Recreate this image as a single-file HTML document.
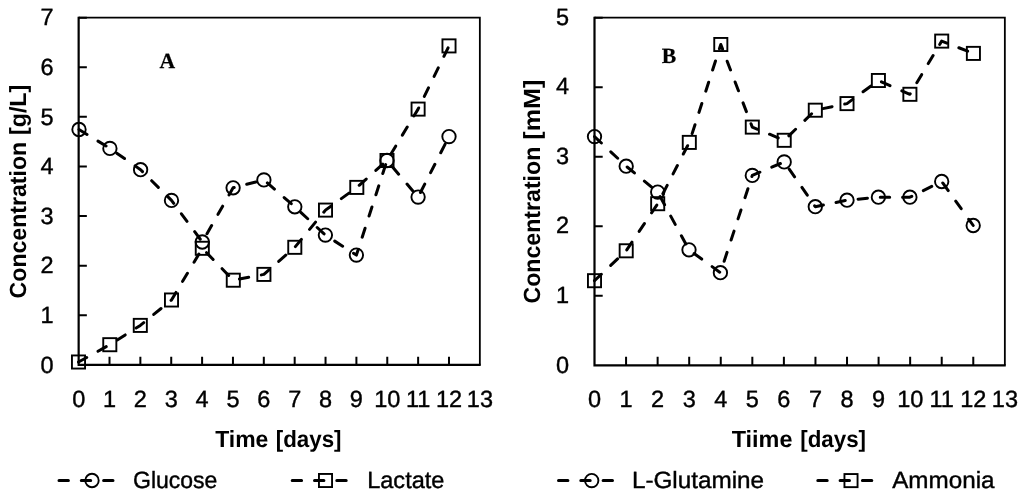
<!DOCTYPE html>
<html lang="en"><head><meta charset="utf-8"><title>Concentration profiles</title>
<style>html,body{margin:0;padding:0;background:#fff}body{width:1024px;height:502px;overflow:hidden}svg{display:block;will-change:transform}text{text-rendering:geometricPrecision}</style>
</head><body>
<svg width="1024" height="502" viewBox="0 0 1024 502">
<rect width="1024" height="502" fill="#fff"/>
<path d="M78.65 17.65H479.85V364.85" fill="none" stroke="#000" stroke-width="1.8"/>
<path d="M78.65 16.65V364.85H480.75" fill="none" stroke="#000" stroke-width="2.2" stroke-linejoin="miter"/>
<path d="M109.51 364.85V356.75M140.37 364.85V356.75M171.23 364.85V356.75M202.10 364.85V356.75M232.96 364.85V356.75M263.82 364.85V356.75M294.68 364.85V356.75M325.54 364.85V356.75M356.40 364.85V356.75M387.27 364.85V356.75M418.13 364.85V356.75M448.99 364.85V356.75M78.65 315.25H86.85M78.65 265.65H86.85M78.65 216.05H86.85M78.65 166.45H86.85M78.65 116.85H86.85M78.65 67.25H86.85M78.65 17.65H86.85" fill="none" stroke="#000" stroke-width="2"/>
<g font-family='"Liberation Sans", sans-serif' font-size="23.5" fill="#000" stroke="#000" stroke-width="0.4" text-anchor="middle">
<text x="78.7" y="407.2">0</text>
<text x="109.5" y="407.2">1</text>
<text x="140.4" y="407.2">2</text>
<text x="171.2" y="407.2">3</text>
<text x="202.1" y="407.2">4</text>
<text x="233.0" y="407.2">5</text>
<text x="263.8" y="407.2">6</text>
<text x="294.7" y="407.2">7</text>
<text x="325.5" y="407.2">8</text>
<text x="356.4" y="407.2">9</text>
<text x="387.3" y="407.2">10</text>
<text x="418.1" y="407.2">11</text>
<text x="449.0" y="407.2">12</text>
<text x="479.9" y="407.2">13</text>
</g>
<g font-family='"Liberation Sans", sans-serif' font-size="23.5" fill="#000" stroke="#000" stroke-width="0.4" text-anchor="end">
<text x="53.6" y="372.7">0</text>
<text x="53.6" y="323.1">1</text>
<text x="53.6" y="273.4">2</text>
<text x="53.6" y="223.9">3</text>
<text x="53.6" y="174.2">4</text>
<text x="53.6" y="124.6">5</text>
<text x="53.6" y="75.0">6</text>
<text x="53.6" y="25.4">7</text>
</g>
<polyline points="79.0,129.5 109.9,148.4 140.6,169.7 171.5,200.4 202.3,242.0 233.1,187.8 263.9,179.9 294.8,206.8 325.4,235.1 356.4,255.1 387.0,160.5 418.1,197.1 449.0,136.6" fill="none" stroke="#000" stroke-width="3.0" stroke-dasharray="9.4 12.9" stroke-linecap="round" stroke-linejoin="round"/>
<g fill="none" stroke="#000" stroke-width="1.9">
<circle cx="79.0" cy="129.5" r="6.7"/>
<circle cx="109.9" cy="148.4" r="6.7"/>
<circle cx="140.6" cy="169.7" r="6.7"/>
<circle cx="171.5" cy="200.4" r="6.7"/>
<circle cx="202.3" cy="242.0" r="6.7"/>
<circle cx="233.1" cy="187.8" r="6.7"/>
<circle cx="263.9" cy="179.9" r="6.7"/>
<circle cx="294.8" cy="206.8" r="6.7"/>
<circle cx="325.4" cy="235.1" r="6.7"/>
<circle cx="356.4" cy="255.1" r="6.7"/>
<circle cx="387.0" cy="160.5" r="6.7"/>
<circle cx="418.1" cy="197.1" r="6.7"/>
<circle cx="449.0" cy="136.6" r="6.7"/>
</g>
<polyline points="78.5,362.0 109.8,344.7 140.3,325.4 171.5,300.0 202.3,248.3 233.3,280.2 263.9,274.4 294.8,247.3 325.5,210.1 356.8,187.4 387.0,160.5 418.1,109.1 449.0,45.9" fill="none" stroke="#000" stroke-width="3.0" stroke-dasharray="9.4 12.9" stroke-linecap="round" stroke-linejoin="round"/>
<g fill="none" stroke="#000" stroke-width="1.9">
<rect x="71.95" y="355.45" width="13.1" height="13.1"/>
<rect x="103.25" y="338.15" width="13.1" height="13.1"/>
<rect x="133.75" y="318.85" width="13.1" height="13.1"/>
<rect x="164.95" y="293.45" width="13.1" height="13.1"/>
<rect x="195.75" y="241.75" width="13.1" height="13.1"/>
<rect x="226.75" y="273.65" width="13.1" height="13.1"/>
<rect x="257.35" y="267.85" width="13.1" height="13.1"/>
<rect x="288.25" y="240.75" width="13.1" height="13.1"/>
<rect x="318.95" y="203.55" width="13.1" height="13.1"/>
<rect x="350.25" y="180.85" width="13.1" height="13.1"/>
<rect x="380.45" y="153.95" width="13.1" height="13.1"/>
<rect x="411.55" y="102.55" width="13.1" height="13.1"/>
<rect x="442.45" y="39.35" width="13.1" height="13.1"/>
</g>
<text transform="translate(25.9 298.4) rotate(-90)" font-family='"Liberation Sans", sans-serif' font-weight="bold" font-size="23.4" xml:space="preserve"><tspan x="0" textLength="156.6" lengthAdjust="spacingAndGlyphs">Concentration</tspan><tspan x="157.0" textLength="56.6" lengthAdjust="spacingAndGlyphs"> [g/L]</tspan></text>
<text y="447.1" font-family='"Liberation Sans", sans-serif' font-weight="bold" font-size="23.4" xml:space="preserve"><tspan x="215.2" textLength="53.2" lengthAdjust="spacingAndGlyphs">Time</tspan><tspan x="269.5" textLength="72.0" lengthAdjust="spacingAndGlyphs"> [days]</tspan></text>
<text x="159.6" y="68.3" font-family='"Liberation Serif", serif' font-weight="bold" font-size="21.7" stroke="#000" stroke-width="0.25">A</text>
<line x1="59" y1="480.5" x2="125" y2="480.5" stroke="#000" stroke-width="3.0" stroke-dasharray="9.4 12.9" stroke-linecap="round"/>
<circle cx="92" cy="480.5" r="6.7" fill="none" stroke="#000" stroke-width="1.9"/>
<text x="133.0" y="488.4" font-family='"Liberation Sans", sans-serif' font-size="23.5" stroke="#000" stroke-width="0.4" textLength="84.4" lengthAdjust="spacingAndGlyphs">Glucose</text>
<line x1="292.2" y1="480.5" x2="358.2" y2="480.5" stroke="#000" stroke-width="3.0" stroke-dasharray="9.4 12.9" stroke-linecap="round"/>
<rect x="318.95" y="473.95" width="13.1" height="13.1" fill="none" stroke="#000" stroke-width="1.9"/>
<text x="367.2" y="488.4" font-family='"Liberation Sans", sans-serif' font-size="23.5" stroke="#000" stroke-width="0.4" textLength="77.2" lengthAdjust="spacingAndGlyphs">Lactate</text>
<path d="M594.5 17.65H1004.85V365.3" fill="none" stroke="#000" stroke-width="1.8"/>
<path d="M594.5 16.65V365.3H1005.75" fill="none" stroke="#000" stroke-width="2.2" stroke-linejoin="miter"/>
<path d="M626.07 365.3V356.80M657.63 365.3V356.80M689.20 365.3V356.80M720.76 365.3V356.80M752.33 365.3V356.80M783.89 365.3V356.80M815.46 365.3V356.80M847.02 365.3V356.80M878.59 365.3V356.80M910.15 365.3V356.80M941.72 365.3V356.80M973.28 365.3V356.80M594.5 295.77H602.70M594.5 226.24H602.70M594.5 156.71H602.70M594.5 87.18H602.70M594.5 17.65H602.70" fill="none" stroke="#000" stroke-width="2"/>
<g font-family='"Liberation Sans", sans-serif' font-size="23.5" fill="#000" stroke="#000" stroke-width="0.4" text-anchor="middle">
<text x="594.5" y="407.2">0</text>
<text x="626.1" y="407.2">1</text>
<text x="657.6" y="407.2">2</text>
<text x="689.2" y="407.2">3</text>
<text x="720.8" y="407.2">4</text>
<text x="752.3" y="407.2">5</text>
<text x="783.9" y="407.2">6</text>
<text x="815.5" y="407.2">7</text>
<text x="847.0" y="407.2">8</text>
<text x="878.6" y="407.2">9</text>
<text x="910.2" y="407.2">10</text>
<text x="941.7" y="407.2">11</text>
<text x="973.3" y="407.2">12</text>
<text x="1004.9" y="407.2">13</text>
</g>
<g font-family='"Liberation Sans", sans-serif' font-size="23.5" fill="#000" stroke="#000" stroke-width="0.4" text-anchor="end">
<text x="569.2" y="372.5">0</text>
<text x="569.2" y="303.0">1</text>
<text x="569.2" y="233.4">2</text>
<text x="569.2" y="163.9">3</text>
<text x="569.2" y="94.4">4</text>
<text x="569.2" y="24.9">5</text>
</g>
<polyline points="594.5,136.6 626.2,166.2 657.7,192.1 689.0,249.8 720.4,272.7 752.3,175.4 784.2,161.9 815.3,206.7 847.0,200.2 878.4,197.2 909.9,197.2 941.7,181.5 973.2,225.5" fill="none" stroke="#000" stroke-width="3.0" stroke-dasharray="9.4 12.9" stroke-linecap="round" stroke-linejoin="round"/>
<g fill="none" stroke="#000" stroke-width="1.9">
<circle cx="594.5" cy="136.6" r="6.7"/>
<circle cx="626.2" cy="166.2" r="6.7"/>
<circle cx="657.7" cy="192.1" r="6.7"/>
<circle cx="689.0" cy="249.8" r="6.7"/>
<circle cx="720.4" cy="272.7" r="6.7"/>
<circle cx="752.3" cy="175.4" r="6.7"/>
<circle cx="784.2" cy="161.9" r="6.7"/>
<circle cx="815.3" cy="206.7" r="6.7"/>
<circle cx="847.0" cy="200.2" r="6.7"/>
<circle cx="878.4" cy="197.2" r="6.7"/>
<circle cx="909.9" cy="197.2" r="6.7"/>
<circle cx="941.7" cy="181.5" r="6.7"/>
<circle cx="973.2" cy="225.5" r="6.7"/>
</g>
<polyline points="594.5,280.7 626.2,250.8 657.7,203.7 689.3,142.4 720.8,44.5 752.3,127.1 784.2,140.3 815.3,110.2 847.0,103.6 878.4,80.5 909.9,94.3 941.7,41.1 973.4,53.4" fill="none" stroke="#000" stroke-width="3.0" stroke-dasharray="9.4 12.9" stroke-linecap="round" stroke-linejoin="round"/>
<g fill="none" stroke="#000" stroke-width="1.9">
<rect x="587.95" y="274.15" width="13.1" height="13.1"/>
<rect x="619.65" y="244.25" width="13.1" height="13.1"/>
<rect x="651.15" y="197.15" width="13.1" height="13.1"/>
<rect x="682.75" y="135.85" width="13.1" height="13.1"/>
<rect x="714.25" y="37.95" width="13.1" height="13.1"/>
<rect x="745.75" y="120.55" width="13.1" height="13.1"/>
<rect x="777.65" y="133.75" width="13.1" height="13.1"/>
<rect x="808.75" y="103.65" width="13.1" height="13.1"/>
<rect x="840.45" y="97.05" width="13.1" height="13.1"/>
<rect x="871.85" y="73.95" width="13.1" height="13.1"/>
<rect x="903.35" y="87.75" width="13.1" height="13.1"/>
<rect x="935.15" y="34.55" width="13.1" height="13.1"/>
<rect x="966.85" y="46.85" width="13.1" height="13.1"/>
</g>
<text transform="translate(540 303.5) rotate(-90)" font-family='"Liberation Sans", sans-serif' font-weight="bold" font-size="23.4" xml:space="preserve"><tspan x="0" textLength="156.8" lengthAdjust="spacingAndGlyphs">Concentration</tspan><tspan x="156.9" textLength="67.0" lengthAdjust="spacingAndGlyphs"> [mM]</tspan></text>
<text y="447.1" font-family='"Liberation Sans", sans-serif' font-weight="bold" font-size="23.4" xml:space="preserve"><tspan x="731.7" textLength="60.8" lengthAdjust="spacingAndGlyphs">Tiime</tspan><tspan x="794.0" textLength="72.0" lengthAdjust="spacingAndGlyphs"> [days]</tspan></text>
<text x="661.8" y="63.3" font-family='"Liberation Serif", serif' font-weight="bold" font-size="21.7" stroke="#000" stroke-width="0.25">B</text>
<line x1="558.5" y1="480.6" x2="624.5" y2="480.6" stroke="#000" stroke-width="3.0" stroke-dasharray="9.4 12.9" stroke-linecap="round"/>
<circle cx="591.7" cy="480.6" r="6.7" fill="none" stroke="#000" stroke-width="1.9"/>
<text x="631.9" y="488.4" font-family='"Liberation Sans", sans-serif' font-size="23.5" stroke="#000" stroke-width="0.4" textLength="132.2" lengthAdjust="spacingAndGlyphs">L-Glutamine</text>
<line x1="817.8" y1="480.6" x2="883.8" y2="480.6" stroke="#000" stroke-width="3.0" stroke-dasharray="9.4 12.9" stroke-linecap="round"/>
<rect x="844.45" y="474.05" width="13.1" height="13.1" fill="none" stroke="#000" stroke-width="1.9"/>
<text x="892.2" y="488.4" font-family='"Liberation Sans", sans-serif' font-size="23.5" stroke="#000" stroke-width="0.4" textLength="102.4" lengthAdjust="spacingAndGlyphs">Ammonia</text>
</svg></body></html>
